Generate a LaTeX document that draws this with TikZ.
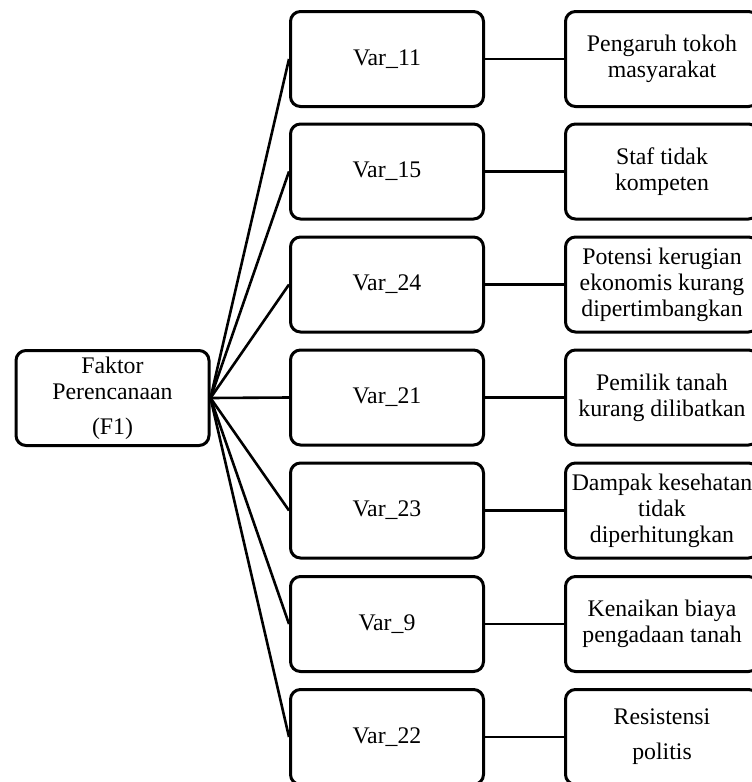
\documentclass[tikz,border=0pt]{standalone}
\usepackage{fontspec}
\setmainfont{Liberation Serif}
\begin{document}
\begin{tikzpicture}[x=1pt,y=-1pt,
  box/.style={draw, line width=3pt, rounded corners=10pt,
    minimum width=193pt, minimum height=95pt, align=center, inner sep=2pt,
    font=\fontsize{23.8}{26}\selectfont},
  link/.style={line width=2.6pt}]
\useasboundingbox (0,0) rectangle (752,782);
\clip (0,0) rectangle (752,782);

% factor box
\node[box] (f1) at (112.5,398) {Faktor\\Perencanaan\\[9pt](F1)};

% variable boxes
\node[box] (v11) at (387,59)    {Var\_11};
\node[box] (v15) at (387,171.5) {Var\_15};
\node[box] (v24) at (387,284.5) {Var\_24};
\node[box] (v21) at (387,397.5) {Var\_21};
\node[box] (v23) at (387,510.5) {Var\_23};
\node[box] (v9)  at (387,624)   {Var\_9};
\node[box] (v22) at (387,737)   {Var\_22};

% description boxes
\node[box] (d11) at (662,59)    {Pengaruh tokoh\\masyarakat};
\node[box] (d15) at (662,171.5) {Staf tidak\\kompeten};
\node[box] (d24) at (662,284.5) {Potensi kerugian\\ekonomis kurang\\dipertimbangkan};
\node[box] (d21) at (662,397.5) {Pemilik tanah\\kurang dilibatkan};
\node[box] (d23) at (662,510.5) {Dampak kesehatan\\tidak\\diperhitungkan};
\node[box] (d9)  at (662,624)   {Kenaikan biaya\\pengadaan tanah};
\node[box] (d22) at (662,737)   {Resistensi\\[9pt]politis};

% fan of connectors from the factor box
\foreach \v in {v11,v15,v24,v21,v23,v9,v22}
  \draw[link] (f1.east) -- (\v.west);

% variable to description
\foreach \v/\d in {v11/d11,v15/d15,v24/d24,v21/d21,v23/d23,v9/d9,v22/d22}
  \draw[link] (\v.east) -- (\d.west);
\end{tikzpicture}
\end{document}
